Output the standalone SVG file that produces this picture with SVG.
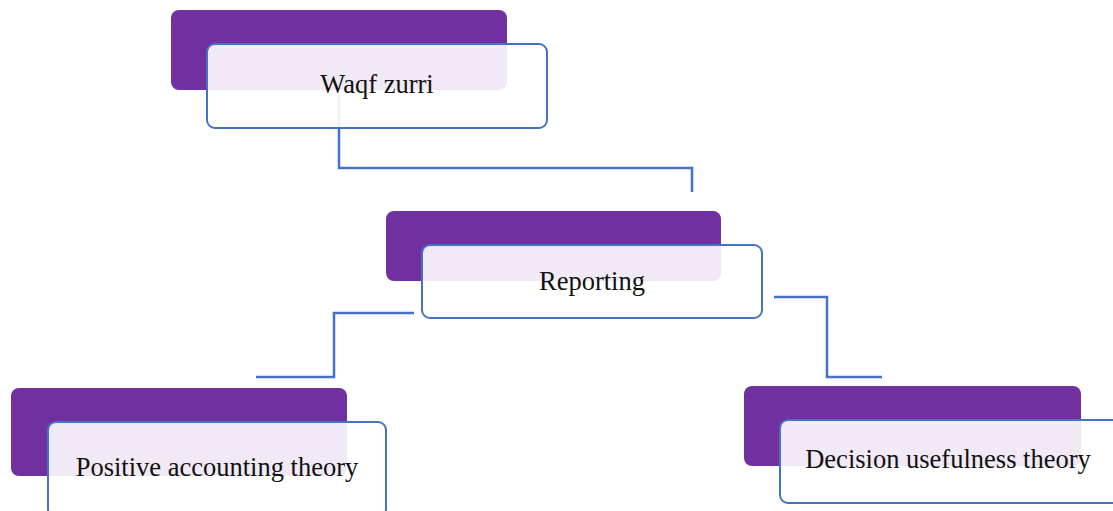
<svg xmlns="http://www.w3.org/2000/svg" width="1113" height="511" viewBox="0 0 1113 511">
<style>
.back{fill:#7030A0;}
.front{fill:#FFFFFF;fill-opacity:0.9;stroke:#4472C4;stroke-width:2;}
.lbl{font-family:"Liberation Serif","Times New Roman",serif;font-size:26.5px;fill:#111111;text-anchor:middle;}
.conn{fill:none;stroke:#4472C4;stroke-width:2.5;}
</style>
<rect width="1113" height="511" fill="#FFFFFF"/>
<g id="connectors">
<polyline class="conn" points="339,95 339,168 692,168 692,192"/>
<polyline class="conn" points="414,313 334,313 334,377 256,377"/>
<polyline class="conn" points="774,297 827,297 827,377 882,377"/>
</g>
<g id="node-waqf">
<rect class="back" x="171" y="10" width="336" height="80" rx="8"/>
<rect class="front" x="207" y="44" width="340" height="84" rx="8"/>
<text class="lbl" x="377" y="93">Waqf zurri</text>
</g>
<g id="node-reporting">
<rect class="back" x="386" y="211" width="335" height="70" rx="8"/>
<rect class="front" x="422" y="245" width="340" height="73" rx="8"/>
<text class="lbl" x="592" y="290">Reporting</text>
</g>
<g id="node-positive">
<rect class="back" x="11" y="388" width="336" height="88" rx="8"/>
<rect class="front" x="48" y="422" width="338" height="95" rx="8"/>
<text class="lbl" x="217" y="476">Positive accounting theory</text>
</g>
<g id="node-decision">
<rect class="back" x="744" y="386" width="337" height="80" rx="8"/>
<rect class="front" x="780" y="420" width="345" height="83" rx="8"/>
<text class="lbl" x="948" y="468">Decision usefulness theory</text>
</g>
</svg>
